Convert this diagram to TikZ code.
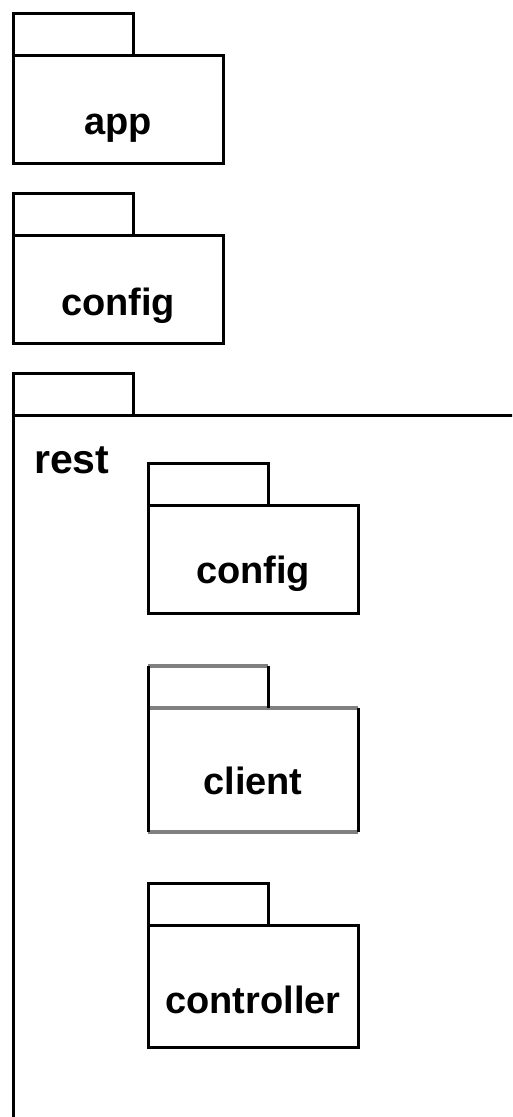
\documentclass[tikz,border=0pt]{standalone}
\usepackage{fontspec}
\setmainfont{Liberation Sans}
\definecolor{edgegray}{RGB}{128,128,128}
\begin{document}
\begin{tikzpicture}[x=1pt,y=-1pt,
  pkgline/.style={line width=3pt, draw=black},
  tabbox/.style={rectangle, inner sep=0pt, outer sep=0pt, minimum width=120pt, minimum height=42pt, anchor=north west},
  bodybox/.style={rectangle, inner sep=0pt, outer sep=0pt, minimum width=210pt, minimum height=108pt, anchor=north west},
  pkglabel/.style={font=\bfseries\fontsize{38}{44}\selectfont, inner sep=0pt, anchor=base},
  grayedge/.style={line width=4.5pt, draw=edgegray},
]
\useasboundingbox (0,0) rectangle (512,1117);
\clip (0,0) rectangle (512,1117);

% top-level package: app
\node[tabbox, pkgline] (apptab) at (13,13) {};
\node[bodybox, pkgline] (appbody) at (13,55) {};
\node[pkglabel] (applabel) at (118,134) {app};

% top-level package: config
\node[tabbox, pkgline] (cfgtab) at (13,193) {};
\node[bodybox, pkgline] (cfgbody) at (13,235) {};
\node[pkglabel] (cfglabel) at (118,315) {config};

% container package: rest
\node[tabbox, pkgline] (resttab) at (13,373) {};
\draw[pkgline] (13,1140) -- (13,415) -- (530,415);
\node[font=\bfseries\fontsize{41}{48}\selectfont, inner sep=0pt, anchor=base west] (restlabel) at (34,473) {rest};

% nested package: config
\node[tabbox, pkgline] (rcfgtab) at (148,463) {};
\node[bodybox, pkgline] (rcfgbody) at (148,505) {};
\node[pkglabel] (rcfglabel) at (253,583) {config};

% nested package: client (grey horizontal edges)
\node[tabbox] (clitab) at (148,666) {};
\node[bodybox, minimum height=124pt] (clibody) at (148,708) {};
\draw[grayedge] (clitab.north west) -- (clitab.north east);
\draw[grayedge] (clibody.north west) -- (clibody.north east);
\draw[grayedge] (clibody.south west) -- (clibody.south east);
\draw[pkgline] (clitab.north west) -- (clitab.south west);
\draw[pkgline] (clitab.north east) -- (clitab.south east);
\draw[pkgline] (clibody.north west) -- (clibody.south west);
\draw[pkgline] (clibody.north east) -- (clibody.south east);
\node[pkglabel] (clilabel) at (253,794) {client};

% nested package: controller
\node[tabbox, pkgline] (ctltab) at (148,883) {};
\node[bodybox, pkgline, minimum height=122pt] (ctlbody) at (148,925) {};
\node[pkglabel] (ctllabel) at (253,1013) {controller};
\end{tikzpicture}
\end{document}
